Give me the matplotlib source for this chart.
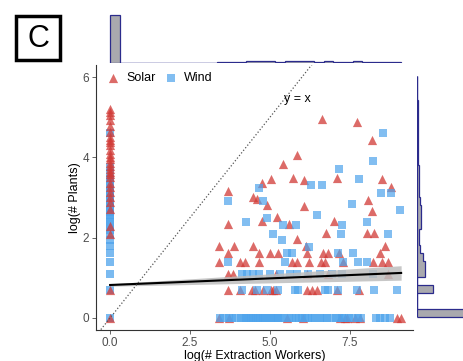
import numpy as np
import matplotlib.pyplot as plt
from matplotlib.patches import Rectangle

plt.rcParams['font.family'] = ['Liberation Sans', 'DejaVu Sans']

# ---- data ----
# points at x = 0 (no extraction workers)
solar_zero_y = [0, 0.69, 2.08, 2.30, 2.71, 2.89, 3.0, 3.14, 3.26, 3.37, 3.5, 3.58, 3.64, 3.71,
                3.78, 3.87, 3.95, 4.0, 4.09, 4.17, 4.3, 4.38, 4.44, 4.5, 4.62, 4.79, 4.94,
                5.05, 5.14, 5.2]
wind_zero_y = [0, 0.69, 1.1, 1.39, 1.61, 1.79, 1.95, 2.08, 2.2, 2.3, 2.4, 2.48, 2.56, 2.64,
               2.71, 2.77, 2.83, 2.89, 2.94, 3.0, 3.04, 3.09, 3.14, 3.18, 3.22, 3.3, 3.4,
               3.47, 3.6, 3.76, 4.6]

# scattered points
solar_x = [6.61, 7.71, 8.20, 5.85, 5.40, 5.03, 4.76, 5.73, 6.06, 7.09, 8.51, 8.77, 3.70, 4.46,
           4.58, 4.90, 6.06, 8.05, 8.20, 5.21, 4.74, 5.59, 7.01, 3.70, 6.75, 8.04, 8.26, 5.85]
solar_y = [4.95, 4.88, 4.43, 4.07, 3.83, 3.46, 3.37, 3.49, 3.43, 3.49, 3.46, 3.25, 3.17, 3.02,
           2.95, 2.80, 2.79, 2.94, 2.66, 2.52, 2.42, 2.34, 2.42, 2.33, 2.11, 2.11, 2.11, 1.97]
wind_x = [8.52, 8.21, 7.16, 7.77, 6.28, 6.61, 4.67, 3.70, 4.77, 8.46, 8.77, 7.57, 9.07, 6.46,
          4.25, 4.92, 5.40, 5.81, 7.26, 8.04, 5.10, 5.36, 7.21, 8.68, 6.23]
wind_y = [4.60, 3.90, 3.71, 3.47, 3.30, 3.30, 3.23, 2.90, 2.90, 3.10, 3.10, 2.84, 2.69, 2.57,
          2.40, 2.50, 2.31, 2.31, 2.31, 2.40, 2.10, 1.94, 2.10, 2.10, 1.77]

# points on rows of small counts: log(6), log(5), log(4), log(3), log(2), log(1)
row_y = [1.79, 1.61, 1.39, 1.10, 0.69, 0.0]
solar_rows = [
    [3.41, 3.88, 4.46, 6.12, 8.59],
    [3.70, 4.67, 5.0, 5.26, 6.15, 6.65, 6.82, 7.17, 8.44],
    [3.41, 4.06, 4.22, 4.67, 5.70, 5.83, 6.23, 6.59, 6.72, 7.27, 8.23, 8.49, 8.70],
    [3.70, 3.85, 5.19, 6.15, 6.82, 8.70],
    [3.70, 4.06, 4.43, 4.53, 4.79, 5.03, 5.10, 5.19, 6.15, 6.30, 6.46, 7.08, 7.79],
    [3.40, 3.72, 5.52, 6.04, 7.20, 7.35, 7.40, 7.66, 7.80, 8.96, 9.11],
]
wind_rows = [
    [],
    [5.52, 5.68, 7.14, 7.58],
    [3.70, 5.47, 7.29, 7.76, 8.04],
    [4.12, 4.27, 4.48, 4.64, 5.0, 5.31, 5.63, 5.83, 6.20, 6.56, 6.93, 7.24, 8.23],
    [4.12, 4.58, 4.90, 5.26, 5.78, 5.89, 6.72, 6.82, 7.14, 7.71, 8.26, 8.96],
    [3.45, 3.55, 3.72, 3.80, 3.95, 4.10, 4.18, 4.25, 4.33, 4.40, 4.48, 4.55, 4.62, 4.70,
     4.78, 4.85, 4.93, 5.02, 5.10, 5.18, 5.26, 5.35, 5.44, 5.60, 5.70, 5.80, 5.90, 6.00,
     6.10, 6.20, 6.30, 6.42, 6.55, 6.65, 6.78, 6.90, 7.05, 7.15, 7.25, 7.35, 7.48, 7.60,
     7.75, 7.85, 8.30, 8.45, 8.60, 8.75],
]

# linear fit and its confidence band
fit_x = [0.0, 9.1]
fit_y = [0.82, 1.12]
fit_half = [0.03, 0.18]

# marginal histograms
top_edges = np.linspace(0, 9.1, 31)
top_counts = [65, 0, 0, 0, 0, 0, 0, 0, 0, 0, 0, 1, 1, 1, 2, 2, 2, 1, 2, 2, 2, 1, 2, 1, 1, 2,
              1, 1, 1, 1]
right_edges = np.linspace(0.02, 6.02, 31)
right_counts = [150, 0, 0, 30, 0, 14, 15, 11, 6, 4, 4, 7, 7, 8, 6, 4, 4, 3, 3, 2, 2, 1, 2, 1,
                2, 2, 1, 0, 0, 0]

# ---- assemble ----
sx = [0.0] * len(solar_zero_y) + solar_x
sy = list(solar_zero_y) + solar_y
wx = list(wind_x)
wy = list(wind_y)
for yv, xs in zip(row_y, solar_rows):
    sx += xs
    sy += [yv] * len(xs)
for yv, xs in zip(row_y, wind_rows):
    wx += xs
    wy += [yv] * len(xs)

red = '#d13a36'
blue = '#4da3ec'
grey_txt = '#4d4d4d'

fig = plt.figure(figsize=(4.64, 3.61), dpi=100)
ax = fig.add_axes([0.207, 0.086, 0.683, 0.734])
ax_top = fig.add_axes([0.207, 0.826, 0.683, 0.142], sharex=ax)
ax_right = fig.add_axes([0.899, 0.086, 0.138, 0.734], sharey=ax)

# wind column at x = 0 sits under the solar markers
ax.scatter([0.0] * len(wind_zero_y), wind_zero_y, marker='s', s=30, color=blue, alpha=0.75, lw=0)
ax.scatter(sx, sy, marker='^', s=44, color=red, alpha=0.75, lw=0, label='Solar')
ax.scatter(wx, wy, marker='s', s=30, color=blue, alpha=0.7, lw=0, label='Wind')

ax.fill_between(fit_x, [fit_y[0] - fit_half[0], fit_y[1] - fit_half[1]],
                [fit_y[0] + fit_half[0], fit_y[1] + fit_half[1]], color='#bdbdbd', alpha=0.85, lw=0)
ax.plot(fit_x, fit_y, color='black', lw=1.5)
ax.plot([-1, 7], [-1, 7], ls=':', color='#555555', lw=0.9)
ax.text(5.45, 5.45, 'y = x', fontsize=9, ha='left', va='center')

ax.set_xlim(-0.44, 9.47)
ax.set_ylim(-0.3, 6.3)
ax.set_xticks([0, 2.5, 5.0, 7.5])
ax.set_xticklabels(['0.0', '2.5', '5.0', '7.5'])
ax.set_yticks([0, 2, 4, 6])
ax.tick_params(colors=grey_txt, labelsize=8.5, length=3, width=0.6, pad=2)
for side in ['top', 'right']:
    ax.spines[side].set_visible(False)
for side in ['left', 'bottom']:
    ax.spines[side].set_color('#333333')
    ax.spines[side].set_linewidth(0.8)
ax.set_xlabel('log(# Extraction Workers)', fontsize=9, labelpad=1)
ax.set_ylabel('log(# Plants)', fontsize=9, labelpad=1)
ax.legend(loc='upper left', bbox_to_anchor=(-0.01, 1.0), ncol=2, frameon=False, fontsize=9,
          handletextpad=0.05, columnspacing=0.25, borderaxespad=0.2)

ax_top.stairs(top_counts, top_edges, fill=True, color='#a9a9ae')
ax_top.stairs(top_counts, top_edges, color='#2b2b8c', lw=0.9, baseline=0)
ax_top.hlines(0, top_edges[0], top_edges[-1], color='#2b2b8c', lw=0.9)
ax_top.set_ylim(0, 70)
ax_top.axis('off')

ax_right.stairs(right_counts, right_edges, fill=True, color='#a9a9ae', orientation='horizontal')
ax_right.stairs(right_counts, right_edges, color='#2b2b8c', lw=0.9, orientation='horizontal', baseline=0)
ax_right.vlines(0, right_edges[0], right_edges[-1], color='#2b2b8c', lw=0.9)
ax_right.set_xlim(0, 120)
ax_right.axis('off')

fig.patches.append(Rectangle((16 / 464, 1 - 60 / 361), 44 / 464, 44 / 361, transform=fig.transFigure,
                             fill=False, ec='black', lw=2.5))
fig.text(38 / 464, 1 - 39 / 361, 'C', fontsize=22, ha='center', va='center')

fig.savefig('out.png', dpi=100)
